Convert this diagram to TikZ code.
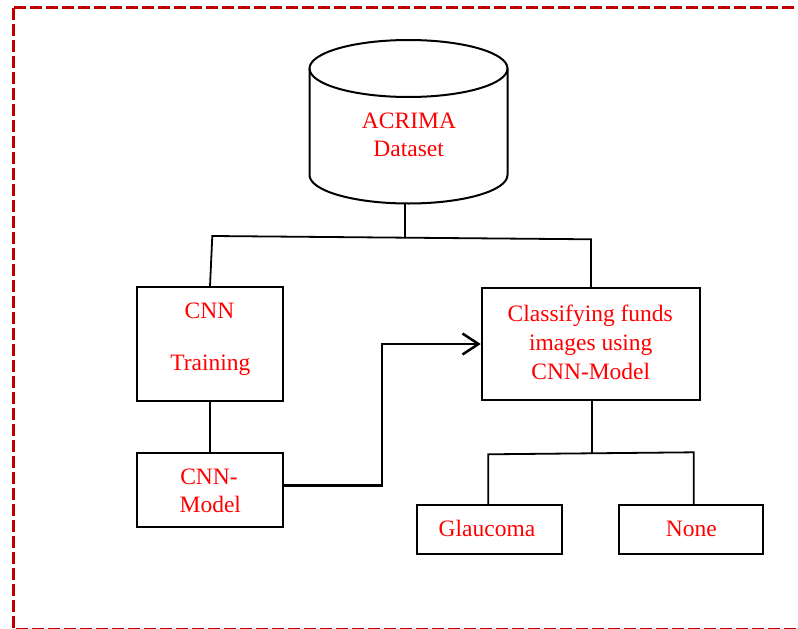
\documentclass[tikz,border=0pt]{standalone}
\usepackage{fontspec}
\setmainfont{Liberation Serif}
\usetikzlibrary{arrows.meta}
\definecolor{borderred}{HTML}{C00000}
\tikzset{
  x=1pt, y=1pt,
  box/.style={draw, line width=1.8pt, inner sep=0pt},
  lbl/.style={anchor=base, text=red, inner sep=0pt, font=\fontsize{23.5}{29}\selectfont},
  conn/.style={line width=1.8pt},
  arrowc/.style={line width=2.5pt, -{Straight Barb[length=16pt,width=21pt]}},
  border/.style={draw=borderred, line width=3.5pt, dash pattern=on 12pt off 4pt},
}
\begin{document}
\begin{tikzpicture}
\useasboundingbox (0,0) rectangle (798,-629);
\clip (0,0) rectangle (798,-629);
\fill[white] (0,0) rectangle (798,-629);
% border
\draw[border] (13.7,-7.7) rectangle (806,-629.5);

% database cylinder
\draw[line width=2pt] (408.5,-68.5) ellipse [x radius=99, y radius=28.5];
\draw[line width=2pt] (309.5,-68.5) -- (309.5,-175)
  arc [start angle=180, end angle=360, x radius=99, y radius=28.5] -- (507.5,-68.5);
\node[inner sep=0pt, minimum width=199pt, minimum height=163.5pt] (db) at (408.5,-121.75) {};
\node[lbl] (dbt1) at (409,-128.3) {ACRIMA};
\node[lbl] (dbt2) at (408.7,-156.7) {Dataset};

% boxes
\node[box, minimum width=145.4pt, minimum height=113.4pt] (train) at (210,-344) {};
\node[lbl] (traint1) at (209.5,-318) {CNN};
\node[lbl] (traint2) at (210.3,-370) {Training};

\node[box, minimum width=145.4pt, minimum height=74pt] (model) at (210,-489.7) {};
\node[lbl] (modelt1) at (209,-484) {CNN-};
\node[lbl] (modelt2) at (210.3,-512.7) {Model};

\node[box, minimum width=218.3pt, minimum height=111.7pt] (cls) at (590.8,-344.2) {};
\node[lbl] (clst1) at (590.3,-321.5) {Classifying funds};
\node[lbl] (clst2) at (590.8,-350.5) {images using};
\node[lbl] (clst3) at (590.8,-379.5) {CNN-Model};

\node[box, minimum width=145pt, minimum height=49pt] (glau) at (489.8,-529.5) {};
\node[lbl] (glaut) at (487,-536.7) {Glaucoma};

\node[box, minimum width=144.3pt, minimum height=49pt] (none) at (691.2,-529.5) {};
\node[lbl] (nonet) at (691.3,-536.7) {None};

% top tree
\coordinate (hm) at (405.3,-237.7);
\coordinate (hl) at (212.3,-236);
\coordinate (hr) at (591,-239.3);
\draw[conn] (hm |- db.south) -- (hm);
\draw[conn] (train.north) -- (hl) -- (hr) -- (hr |- cls.north);

% training to model
\draw[conn] (train.south) -- (model.north);

% model to classifier arrow
\coordinate (bend) at (382,-344);
\draw[arrowc] ([yshift=4pt]model.east) -| (bend) -- (bend -| cls.west);

% bottom tree
\coordinate (cm) at (591.7,-453.3);
\coordinate (gl) at (488.3,-454.3);
\coordinate (nr) at (693.7,-452.3);
\draw[conn] (cm |- cls.south) -- (cm);
\draw[conn] (gl |- glau.north) -- (gl) -- (nr) -- (nr |- none.north);
\end{tikzpicture}
\end{document}
